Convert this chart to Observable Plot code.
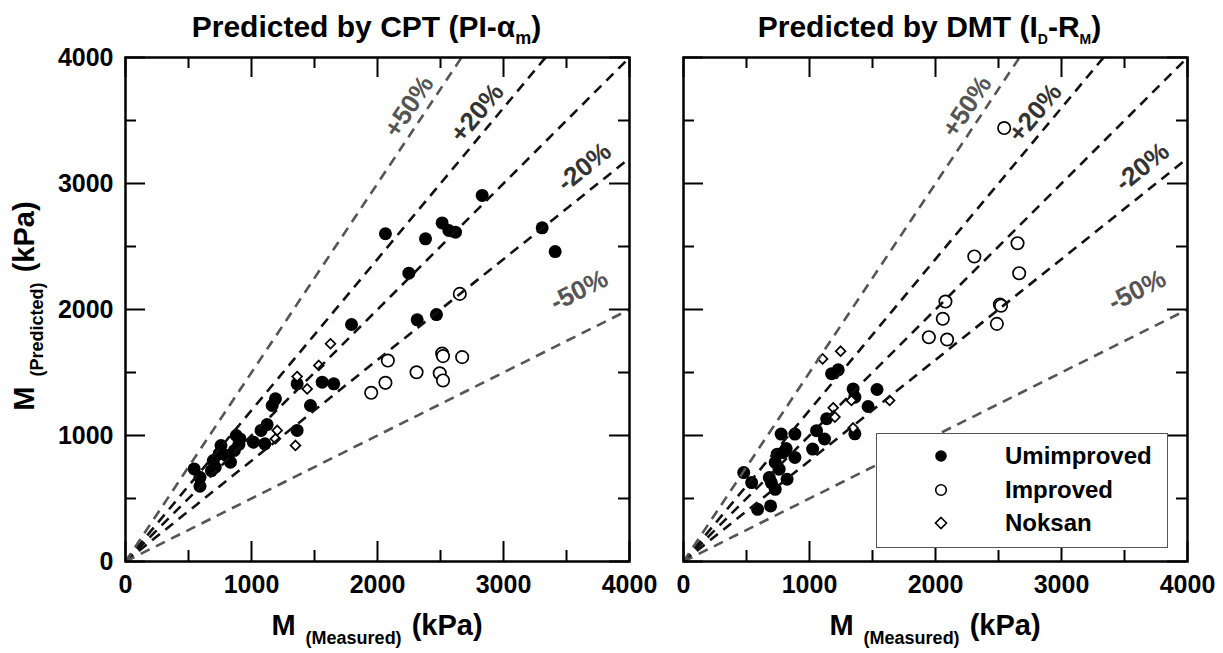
<!DOCTYPE html>
<html><head><meta charset="utf-8">
<script src="https://cdn.jsdelivr.net/npm/d3@7"></script>
<script src="https://cdn.jsdelivr.net/npm/@observablehq/plot@0.6"></script>
<style>
body{margin:0;background:#fff;font-family:"Liberation Sans",Arial,sans-serif;}
#wrap{position:relative;width:1223px;height:653px;overflow:hidden;background:#fff}
.abs{position:absolute;font-weight:bold;color:#000;white-space:nowrap;line-height:1}
.title{font-size:30px;text-align:center}
.title .s{font-size:18px;position:relative;top:7px}
.title .ss{font-size:14px;position:relative;top:7px}
.axt{font-size:29px;text-align:center}
.axt .sub{font-size:18px;position:relative;top:9px;margin:0 2px}
.legend{border:1.5px solid #555;background:#fff;box-sizing:border-box}
.legend .row{position:absolute;font-size:24px;font-weight:bold}
svg.plot{position:absolute;overflow:visible}
</style></head><body>
<div id="wrap"></div>
<script>
// ---- axis settings ----
const domainMax = 4000;
const majorTicks = [0, 1000, 2000, 3000, 4000];
const minorTicks = [500, 1500, 2500, 3500];
const tickLabels = ["0", "1000", "2000", "3000", "4000"];

// ---- reference lines (y = ratio * x) ----
const lineRatios = [1.5, 1.2, 1.0, 0.8, 0.5];
const lineGray = [true, false, false, false, true];
const labelText = ["+50%", "+20%", "-20%", "-50%"];
const labelRatio = [1.5, 1.2, 0.8, 0.5];
const labelX = [2250, 2790, 3640, 3600];
const labelY = [3610, 3560, 3130, 2150];
const labelColor = ["#555", "#333", "#333", "#555"];

// ---- CPT panel data ----
const cptUnX = [545,591,591,682,712,697,742,758,803,833,864,879,909,900,1015,1106,1076,1124,1164,1190,1362,1362,1468,1561,1653,1794,2063,2249,2315,2381,2468,2513,2566,2619,2831,3307,3410];
const cptUnY = [735,668,597,721,748,801,854,920,841,788,881,1000,973,930,947,934,1040,1087,1238,1291,1040,1410,1238,1423,1410,1881,2601,2288,1918,2561,1960,2687,2627,2614,2905,2648,2460];
const cptImX = [1950,2063,2082,2310,2494,2513,2520,2520,2672,2653];
const cptImY = [1339,1418,1595,1502,1494,1650,1630,1437,1622,2124];
const cptNoX = [1627,1534,1362,1442,1204,1190,1349];
const cptNoY = [1728,1556,1468,1370,1040,974,921];

// ---- DMT panel data ----
const dmtUnX = [478,541,588,691,681,697,728,744,791,728,759,822,884,775,884,815,1025,1056,1119,1136,1175,1228,1346,1360,1360,1465,1536];
const dmtUnY = [706,626,414,441,666,626,573,852,865,786,733,653,826,1011,1011,897,892,1038,972,1133,1490,1521,1370,1304,1013,1230,1365];
const dmtImX = [1947,2058,2079,2092,2308,2487,2511,2520,2545,2651,2664];
const dmtImY = [1780,1926,2063,1762,2421,1886,2040,2030,3440,2526,2288];
const dmtNoX = [1104,1247,1188,1202,1333,1346,1636];
const dmtNoY = [1608,1669,1220,1146,1278,1060,1278];

const legendNames = ["Umimproved", "Improved", "Noksan"];

const zip = (xs, ys) => xs.map((x, i) => ({x, y: ys[i]}));
const FONT = "Liberation Sans, Arial, sans-serif";
const frameSize = 504;

function makeChart({un, im, no, showY, marginLeft, marginRight}) {
  const pxPerUnit = frameSize / domainMax;
  const majLen = 20 / pxPerUnit, minLen = 11 / pxPerUnit;
  const refLines = lineRatios.map((r, i) => {
    const x2 = Math.min(domainMax, domainMax / r);
    return {x2, y2: x2 * r, gray: lineGray[i]};
  });
  const labels = labelText.map((t, i) => ({
    text: t, x: labelX[i], y: labelY[i], fill: labelColor[i],
    rotate: -Math.atan(labelRatio[i]) * 180 / Math.PI
  }));
  const tickStyle = {stroke: "#000", strokeWidth: 2};
  const marginTop = 12, marginBottom = 45;
  return Plot.plot({
    width: marginLeft + frameSize + marginRight,
    height: marginTop + frameSize + marginBottom,
    marginLeft, marginRight, marginTop, marginBottom,
    x: {domain: [0, domainMax]},
    y: {domain: [0, domainMax]},
    style: {fontFamily: FONT, fontWeight: "bold", fontSize: "25px", color: "#000", background: "transparent", overflow: "visible"},
    marks: [
      Plot.dot(zip(un.x, un.y), {x: "x", y: "y", r: 6.5, fill: "#000", stroke: "none"}),
      Plot.dot(zip(im.x, im.y), {x: "x", y: "y", r: 6.2, fill: "#fff", stroke: "#000", strokeWidth: 1.7}),
      Plot.dot(zip(no.x, no.y), {x: "x", y: "y", symbol: "diamond2", r: 4.4, fill: "#fff", stroke: "#000", strokeWidth: 1.7}),
      Plot.link(refLines.filter(d => !d.gray), {x1: 0, y1: 0, x2: "x2", y2: "y2", stroke: "#111", strokeWidth: 2.6, strokeDasharray: "10,7"}),
      Plot.link(refLines.filter(d => d.gray), {x1: 0, y1: 0, x2: "x2", y2: "y2", stroke: "#555", strokeWidth: 2.6, strokeDasharray: "10,7"}),
      ...labels.map(l => Plot.text([l], {x: "x", y: "y", text: "text", fill: l.fill, rotate: l.rotate, fontSize: 26, fontWeight: "bold", fontFamily: FONT})),
      // inward ticks on four sides
      Plot.ruleX(majorTicks, {x: d => d, y1: 0, y2: majLen, ...tickStyle}),
      Plot.ruleX(minorTicks, {x: d => d, y1: 0, y2: minLen, ...tickStyle}),
      Plot.ruleX(majorTicks, {x: d => d, y1: domainMax, y2: domainMax - majLen, ...tickStyle}),
      Plot.ruleX(minorTicks, {x: d => d, y1: domainMax, y2: domainMax - minLen, ...tickStyle}),
      Plot.ruleY(majorTicks, {y: d => d, x1: 0, x2: majLen, ...tickStyle}),
      Plot.ruleY(minorTicks, {y: d => d, x1: 0, x2: minLen, ...tickStyle}),
      Plot.ruleY(majorTicks, {y: d => d, x1: domainMax, x2: domainMax - majLen, ...tickStyle}),
      Plot.ruleY(minorTicks, {y: d => d, x1: domainMax, x2: domainMax - minLen, ...tickStyle}),
      Plot.frame({stroke: "#000", strokeWidth: 2.5}),
      Plot.axisX({ticks: majorTicks, tickSize: 0, tickPadding: 14, tickFormat: (d) => tickLabels[majorTicks.indexOf(d)], label: null, fontSize: 25, fontWeight: "bold"}),
      showY ? Plot.axisY({ticks: majorTicks, tickSize: 0, tickPadding: 12, tickFormat: (d) => tickLabels[majorTicks.indexOf(d)], label: null, fontSize: 25, fontWeight: "bold"}) : Plot.axisY({ticks: [], label: null, tickSize: 0})
    ]
  });
}

const wrap = document.getElementById("wrap");
function add(html, cls, style) {
  const d = document.createElement("div");
  d.className = "abs " + cls;
  Object.assign(d.style, style);
  d.innerHTML = html;
  wrap.appendChild(d);
  return d;
}

const left = makeChart({un: {x: cptUnX, y: cptUnY}, im: {x: cptImX, y: cptImY}, no: {x: cptNoX, y: cptNoY}, showY: true, marginLeft: 125, marginRight: 30});
left.classList.add("plot");
left.style.left = "0px"; left.style.top = "45px";
wrap.appendChild(left);

const right = makeChart({un: {x: dmtUnX, y: dmtUnY}, im: {x: dmtImX, y: dmtImY}, no: {x: dmtNoX, y: dmtNoY}, showY: false, marginLeft: 20, marginRight: 35});
right.classList.add("plot");
right.style.left = "663px"; right.style.top = "45px";
wrap.appendChild(right);

// titles
add('Predicted by CPT (PI-α<span class="s">m</span>)', "title", {left: "114px", width: "505px", top: "12px"});
add('Predicted by DMT (I<span class="ss">D</span>-R<span class="ss">M</span>)', "title", {left: "677px", width: "505px", top: "12px"});
// axis titles
add('M <span class="sub">(Measured)</span> (kPa)', "axt", {left: "125px", width: "504px", top: "611px"});
add('M <span class="sub">(Measured)</span> (kPa)', "axt", {left: "683px", width: "504px", top: "611px"});
add('M <span class="sub">(Predicted)</span> (kPa)', "axt", {left: "24px", top: "306px", width: "400px", transform: "translate(-50%,-50%) rotate(-90deg)"});

// legend
const lg = add("", "legend", {left: "876px", top: "433px", width: "292px", height: "115px"});
const sym = [
  '<svg width="16" height="16"><circle cx="8" cy="8" r="5.8" fill="#000"/></svg>',
  '<svg width="16" height="16"><circle cx="8" cy="8" r="5.3" fill="#fff" stroke="#000" stroke-width="1.6"/></svg>',
  '<svg width="16" height="16"><path d="M8,2.5L13.5,8L8,13.5L2.5,8Z" fill="#fff" stroke="#000" stroke-width="1.6"/></svg>'
];
const rowY = [22, 56, 89];
legendNames.forEach((n, i) => {
  const s = document.createElement("div");
  s.className = "row";
  s.style.left = "56px"; s.style.top = (rowY[i] - 8) + "px"; s.style.lineHeight = "0";
  s.innerHTML = sym[i];
  lg.appendChild(s);
  const t = document.createElement("div");
  t.className = "row";
  t.style.left = "128px"; t.style.top = (rowY[i] - 13) + "px"; t.style.lineHeight = "26px";
  t.textContent = n;
  lg.appendChild(t);
});
</script>
</body></html>
